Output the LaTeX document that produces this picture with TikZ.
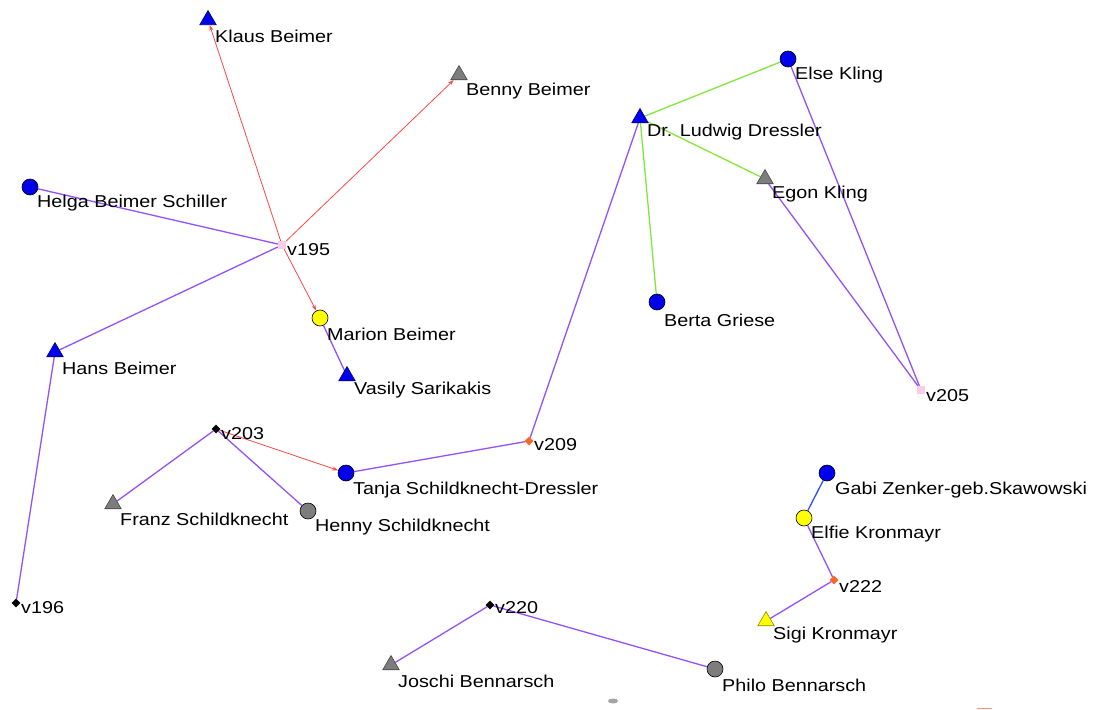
\documentclass[tikz,border=0pt]{standalone}
\usepackage{fontspec}
\setmainfont[FakeStretch=1.15]{Liberation Sans}
\usetikzlibrary{shapes.geometric,arrows.meta}
\definecolor{ppl}{RGB}{150,80,250}
\definecolor{grn}{RGB}{130,230,60}
\definecolor{rdl}{RGB}{255,70,70}
\definecolor{bln}{RGB}{0,0,235}
\definecolor{ylw}{RGB}{255,255,0}
\definecolor{gry}{RGB}{125,125,125}
\definecolor{pnk}{RGB}{250,205,230}
\definecolor{org}{RGB}{255,100,40}
\definecolor{bll}{RGB}{40,80,255}
\pgfdeclarelayer{edges}
\pgfsetlayers{edges,main}
\tikzset{
  tri/.style={regular polygon, regular polygon sides=3, minimum size=19pt, inner sep=0pt, draw=#1!55!black, fill=#1, line width=0.6pt},
  circ/.style={circle, minimum size=16pt, inner sep=0pt, draw=black, fill=#1, line width=0.6pt},
  dia/.style={diamond, minimum size=9pt, inner sep=0pt, fill=#1},
  sq/.style={rectangle, minimum size=8pt, inner sep=0pt, fill=#1},
  lbl/.style={inner sep=0pt, anchor=west, font=\fontsize{17.2}{20}\selectfont},
  ue/.style={ppl, line width=1.3pt},
  ge/.style={grn, line width=1.3pt},
  be/.style={bll, line width=1.3pt},
  de/.style={rdl, line width=0.8pt, -{Stealth[length=6pt,width=4pt]}},
}
\newcommand\vtx[4]{\node[#4] (#1) at (#2,#3) {};}
\newcommand\lab[4]{\node[lbl] (#1-l) at (#2+7,#3+16) {#4};}
\begin{document}
\begin{tikzpicture}[x=1pt,y=-1pt]
\useasboundingbox (0,0) rectangle (1094,709);
% vertices
\vtx{klaus}{208}{20}{tri=bln}
\vtx{benny}{459}{75}{tri=gry}
\vtx{helga}{30}{187}{circ=bln}
\vtx{v195}{282}{245}{sq=pnk}
\vtx{marion}{320}{318}{circ=ylw}
\vtx{vasily}{347}{376}{tri=bln}
\vtx{hans}{55}{352}{tri=bln}
\vtx{v196}{16}{603}{dia=black}
\vtx{v203}{216}{429}{dia=black}
\vtx{franz}{113}{504}{tri=gry}
\vtx{henny}{308}{511}{circ=gry}
\vtx{tanja}{346}{473}{circ=bln}
\vtx{v209}{529}{441}{dia=org}
\vtx{ludwig}{640}{118}{tri=bln}
\vtx{else}{788}{59}{circ=bln}
\vtx{egon}{765}{179}{tri=gry}
\vtx{berta}{657}{302}{circ=bln}
\vtx{v205}{921}{390}{sq=pnk}
\vtx{gabi}{827}{473}{circ=bln}
\vtx{elfie}{804}{518}{circ=ylw}
\vtx{v222}{834}{580}{dia=org}
\vtx{sigi}{766}{621}{tri=ylw}
\vtx{v220}{490}{605}{dia=black}
\vtx{joschi}{391}{665}{tri=gry}
\vtx{philo}{715}{669}{circ=gry}
% edges
\begin{pgfonlayer}{edges}
\draw[ue] (helga) -- (v195);
\draw[ue] (hans) -- (v195);
\draw[de] (v195) -- (klaus);
\draw[de] (v195) -- (benny);
\draw[de] (v195) -- (marion);
\draw[ue] (marion) -- (vasily);
\draw[ue] (hans) -- (v196);
\draw[ue] (v203) -- (franz);
\draw[ue] (v203) -- (henny);
\draw[de] (v203) -- (tanja);
\draw[ue] (tanja) -- (v209);
\draw[ue] (v209) -- (ludwig);
\draw[ge] (ludwig) -- (else);
\draw[ge] (ludwig) -- (egon);
\draw[ge] (ludwig) -- (berta);
\draw[ue] (else) -- (v205);
\draw[ue] (egon) -- (v205);
\draw[be] (gabi) -- (elfie);
\draw[ue] (elfie) -- (v222);
\draw[ue] (v222) -- (sigi);
\draw[ue] (v220) -- (joschi);
\draw[ue] (v220) -- (philo);
\end{pgfonlayer}
% labels
\lab{klaus}{208}{20}{Klaus Beimer}
\lab{benny}{459}{75}{Benny Beimer}
\lab{helga}{30}{187}{Helga Beimer Schiller}
\node[lbl] (v195-l) at (287,250) {v195};
\lab{marion}{320}{318}{Marion Beimer}
\lab{vasily}{347}{374}{Vasily Sarikakis}
\lab{hans}{55}{352}{Hans Beimer}
\node[lbl] (v196-l) at (21,608) {v196};
\node[lbl] (v203-l) at (221,434) {v203};
\lab{franz}{113}{503}{Franz Schildknecht}
\lab{henny}{308}{511}{Henny Schildknecht}
\lab{tanja}{346}{474}{Tanja Schildknecht-Dressler}
\node[lbl] (v209-l) at (534,445) {v209};
\lab{ludwig}{640}{116}{Dr. Ludwig Dressler}
\lab{else}{788}{59}{Else Kling}
\lab{egon}{765}{178}{Egon Kling}
\lab{berta}{657}{304}{Berta Griese}
\node[lbl] (v205-l) at (926,396) {v205};
\lab{gabi}{828}{474}{Gabi Zenker-geb.Skawowski}
\lab{elfie}{804}{518}{Elfie Kronmayr}
\node[lbl] (v222-l) at (839,586) {v222};
\lab{sigi}{766}{619}{Sigi Kronmayr}
\node[lbl] (v220-l) at (495,608) {v220};
\lab{joschi}{391}{665}{Joschi Bennarsch}
\lab{philo}{715}{669}{Philo Bennarsch}
% small artifacts at the bottom edge
\fill[gry!70] (613,701) ellipse (5 and 2.5);
\draw[rdl!60, line width=1pt] (977,708) -- (992,708);
\end{tikzpicture}
\end{document}
